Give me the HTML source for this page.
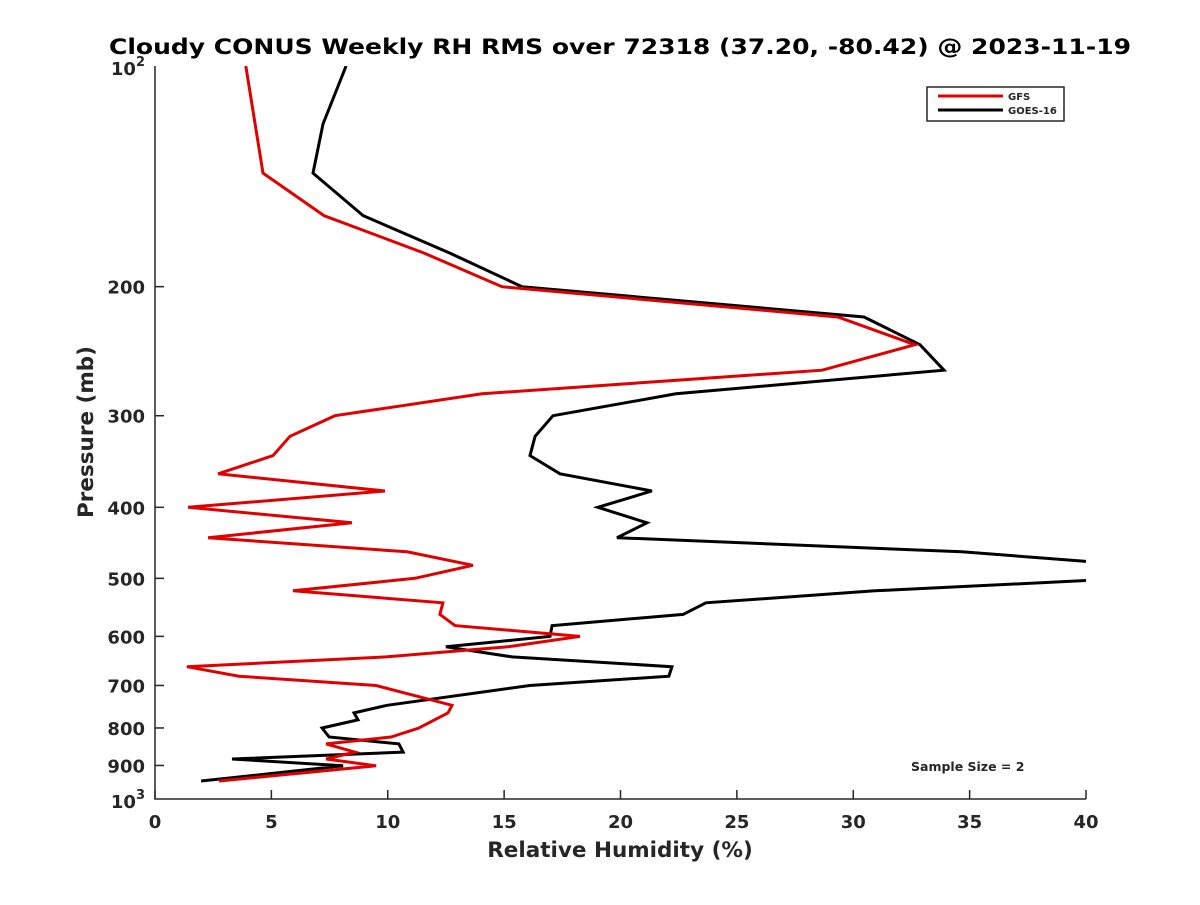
<!DOCTYPE html>
<html><head><meta charset="utf-8"><style>
body{margin:0;background:#fff;}
svg text{font-family:"DejaVu Sans","Liberation Sans",sans-serif;font-weight:bold;fill:#262626;}
</style></head><body>
<svg id="chart" width="1200" height="900" viewBox="0 0 1200 900" xmlns="http://www.w3.org/2000/svg">
<defs><clipPath id="plotclip"><rect x="155" y="66" width="931" height="733"/></clipPath></defs>
<rect width="1200" height="900" fill="#fff"/>
<text x="620" y="54" font-size="21.5" text-anchor="middle" textLength="1022" lengthAdjust="spacingAndGlyphs" style="fill:#000">Cloudy CONUS Weekly RH RMS over 72318 (37.20, -80.42) @ 2023-11-19</text>
<g id="axes"></g>
<g id="series" clip-path="url(#plotclip)"></g>
<g>
<rect x="927" y="87" width="137" height="34" fill="#fff" stroke="#262626" stroke-width="1.5"/>
<line x1="938" y1="96" x2="1003" y2="96" stroke="#e00000" stroke-width="3"/>
<text x="1008" y="100" font-size="10">GFS</text>
<line x1="938" y1="110" x2="1003" y2="110" stroke="#000" stroke-width="3"/>
<text x="1008" y="114" font-size="10">GOES-16</text>
</g>
<text x="911" y="771" font-size="12.5">Sample Size = 2</text>
<text x="620" y="857" font-size="21.5" text-anchor="middle">Relative Humidity (%)</text>
<text x="0" y="0" font-size="21.5" text-anchor="middle" transform="translate(93,432) rotate(-90)">Pressure (mb)</text>
</svg>
<script>
const xTicks = [0,5,10,15,20,25,30,35,40];
const yTicks = [200,300,400,500,600,700,800,900];
const gfsPressure = [100,140,160,180,200,220,240,260,280,300,320,340,360,380,400,420,440,460,480,500,520,540,560,580,600,620,640,660,680,700,745,763,800,823,841,863,882,901,945];
const gfsRms = [3.9,4.64,7.26,11.56,14.91,29.34,32.65,28.66,14.05,7.73,5.8,5.07,2.71,9.88,1.42,8.46,2.28,10.83,13.66,11.17,5.93,12.37,12.24,12.89,18.26,15.17,9.92,1.37,3.61,9.5,12.76,12.59,11.34,10.14,7.35,8.59,7.35,9.5,2.75];
const goesPressure = [100,120,140,160,180,200,220,240,260,280,300,320,340,360,380,400,420,440,460,480,500,520,540,560,580,600,620,640,660,680,700,745,763,780,800,823,841,863,882,901,945];
const goesRms = [8.21,7.22,6.79,8.94,12.67,15.77,30.46,32.87,33.9,22.38,17.1,16.33,16.11,17.4,21.35,19.03,21.14,19.85,34.67,42.2,42,30.93,23.67,22.69,17.06,16.97,12.5,15.34,22.21,22.08,16.1,9.97,8.55,8.72,7.18,7.48,10.48,10.66,3.31,8.08,1.98];

const X0=155,X1=1086,Y0=66,Y1=799;
const xs=v=>X0+(v-0)/40*(X1-X0);
const ys=p=>Y0+(Math.log10(p)-2)*(Y1-Y0);
const NS='http://www.w3.org/2000/svg';
const axes=document.getElementById('axes');
const series=document.getElementById('series');
function mk(tag,attrs,parent){const e=document.createElementNS(NS,tag);for(const k in attrs)e.setAttribute(k,attrs[k]);parent.appendChild(e);return e;}

const axl=mk('path',{d:`M${X0},${Y0}V${Y1}H${X1}`,fill:'none',stroke:'#262626','stroke-width':1.5},axes);



xTicks.forEach(v=>{
  const x=xs(v);
  const t=mk('line',{x1:x,y1:Y1,x2:x,y2:Y1-9,stroke:'#262626','stroke-width':1.5},axes);
  
  
  const l=mk('text',{x:x,y:Y1+29,'font-size':18,'text-anchor':'middle'},axes);
  l.textContent=v;
  
  
});
yTicks.forEach(p=>{
  const y=ys(p);
  const t=mk('line',{x1:X0,y1:y,x2:X0+9,y2:y,stroke:'#262626','stroke-width':1.5},axes);
  
  
  const l=mk('text',{x:X0-10,y:y+7,'font-size':18,'text-anchor':'end'},axes);
  l.textContent=p;
  
  
});
[[100,'2'],[1000,'3']].forEach(([p,e])=>{
  const y=ys(p);
  const l=mk('text',{x:X0-10,y:y+9,'font-size':18,'text-anchor':'end'},axes);
  l.innerHTML='10<tspan dy="-9" font-size="13">'+e+'</tspan>';
  
  
});

function drawLine(pr,vals,color,name){
  const d=pr.map((p,i)=>(i?'L':'M')+xs(vals[i]).toFixed(1)+','+ys(p).toFixed(1)).join('');
  const path=mk('path',{d:d,fill:'none',stroke:color,'stroke-width':3,'stroke-linejoin':'miter'},series);
  
  
}
drawLine(goesPressure,goesRms,'#000','goes16-line');
drawLine(gfsPressure,gfsRms,'#e00000','gfs-line');
</script>
</body></html>
